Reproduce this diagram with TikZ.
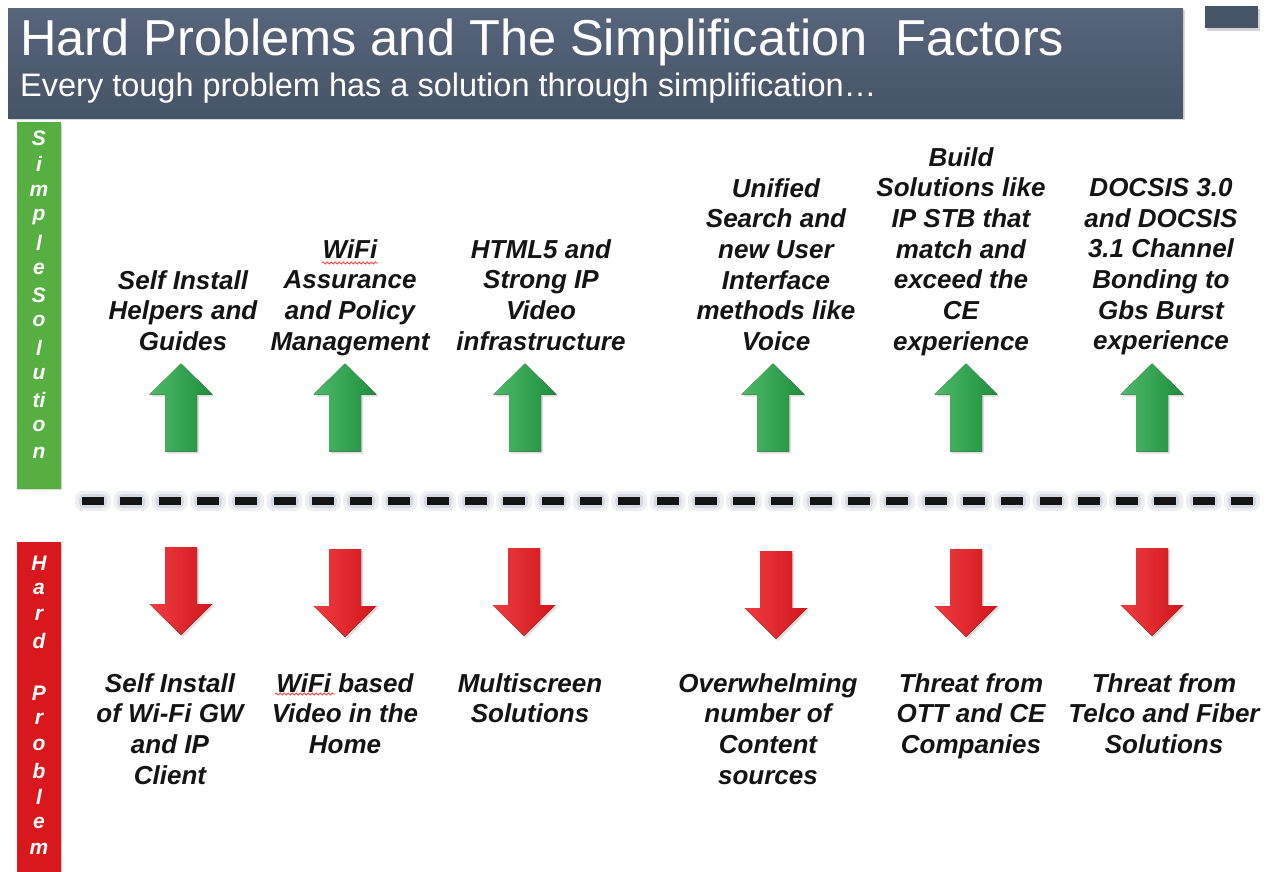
\documentclass[tikz,border=0pt]{standalone}
\usepackage{fontspec}
\setmainfont{Liberation Sans}
\usetikzlibrary{positioning,shadows,decorations.pathmorphing}
\definecolor{slatetop}{HTML}{56657A}
\definecolor{slatebot}{HTML}{465467}
\definecolor{solgreen}{HTML}{22A845}
\definecolor{bargreen}{HTML}{5DBE46}
\definecolor{probred}{HTML}{EC1A1F}
\definecolor{glowgray}{HTML}{9AA6BA}
\tikzset{
  claim/.style={align=center, anchor=north, inner sep=0pt, text=black!92,
    font=\fontsize{26}{30.7}\selectfont\bfseries\itshape},
  sidebar/.style={minimum width=44pt, inner sep=0pt,
    drop shadow={opacity=0.3, shadow xshift=1pt, shadow yshift=-2pt}},
  sideletter/.style={text=white, inner sep=0pt,
    font=\fontsize{21}{21}\selectfont\bfseries\itshape},
  squiggle/.style={draw=red!75, line width=0.8pt,
    decorate, decoration={snake, amplitude=1.1pt, segment length=4pt}},
  uparrow/.pic={
    \fill[left color=solgreen!80!white, middle color=solgreen!85!white, right color=solgreen!85!black,
      drop shadow={opacity=0.25, shadow xshift=2pt, shadow yshift=-2pt}]
      (0,-44) -- (31.5,-13) -- (16,-13) -- (16,44) -- (-16,44) -- (-16,-13) -- (-31.5,-13) -- cycle;
  },
  downarrow/.pic={
    \fill[left color=probred!85!white, middle color=probred, right color=probred!88!black,
      drop shadow={opacity=0.25, shadow xshift=2pt, shadow yshift=-2pt}]
      (0,44) -- (31.5,13) -- (16,13) -- (16,-44) -- (-16,-44) -- (-16,13) -- (-31.5,13) -- cycle;
  }
}

\begin{document}
\begin{tikzpicture}[x=1pt, y=-1pt]
  \useasboundingbox (0,0) rectangle (1270,871);

  % heading
  \node[minimum width=1175pt, minimum height=110pt, inner sep=0pt,
    top color=slatetop, bottom color=slatebot,
    drop shadow={opacity=0.3, shadow xshift=2pt, shadow yshift=-2pt}] (header) at (595.5,63) {};
  \node[anchor=base west, inner sep=0pt, text=white, font=\fontsize{50.5}{50.5}\selectfont] (title) at (20,55)
    {Hard Problems and The Simplification\ \ Factors};
  \node[anchor=base west, inner sep=0pt, text=white, font=\fontsize{32.5}{32.5}\selectfont] (subtitle) at (20,96)
    {Every tough problem has a solution through simplification…};
  \node[minimum width=53pt, minimum height=22pt, inner sep=0pt, fill=slatebot,
    drop shadow={opacity=0.35, shadow xshift=2pt, shadow yshift=-3pt}] (corner) at (1231.5,17) {};

  % side bars
  \node[sidebar, minimum height=366pt, left color=bargreen!92!black, middle color=bargreen!80!white,
    right color=bargreen!92!black] (simplebar) at (39,305) {};
  \node[sidebar, minimum height=338pt, left color=probred!92!black, middle color=probred!88!white,
    right color=probred!92!black] (hardbar) at (39,711) {};
  \foreach \ch [count=\i] in {S,i,m,p,l,e,S,o,l,u,ti,o,n}
    \node[sideletter] (simple-\i) at (39,{138+26.2*(\i-1)}) {\ch};
  \foreach \ch [count=\i] in {H,a,r,d}
    \node[sideletter] (hard-\i) at (39,{563+26*(\i-1)}) {\ch};
  \foreach \ch [count=\i] in {P,r,o,b,l,e,m}
    \node[sideletter] (prob-\i) at (39,{693+26*(\i-1)}) {\ch};

  % divider
  \foreach \k in {0,...,30}{
    \pgfmathsetmacro\dx{82+38.3*\k}
    \fill[glowgray, opacity=0.18, rounded corners=8pt] (\dx-7,491) rectangle (\dx+29,511);
    \fill[glowgray, opacity=0.3, rounded corners=5pt] (\dx-3,494) rectangle (\dx+25,508);
    \fill[black!92] (\dx,497) rectangle (\dx+22,505);
  }

  % solutions
  \node[claim] (sol1) at (183,270) {Self Install\\Helpers and\\Guides};
  \node[claim] (sol2) at (350,239) {WiFi\\Assurance\\and Policy\\Management};
  \node[claim] (sol3) at (541,239) {HTML5 and\\Strong IP\\Video\\infrastructure};
  \node[claim] (sol4) at (776,178) {Unified\\Search and\\new User\\Interface\\methods like\\Voice};
  \node[claim] (sol5) at (961,147) {Build\\Solutions like\\IP STB that\\match and\\exceed the\\CE\\experience};
  \node[claim] (sol6) at (1161,178) {DOCSIS 3.0\\and DOCSIS\\3.1 Channel\\Bonding to\\Gbs Burst\\experience};
  \draw[squiggle] (322,263) -- (378,263);

  \pic (up1) at (181,407.5) {uparrow};
  \pic (up2) at (345,407.5) {uparrow};
  \pic (up3) at (525,407.5) {uparrow};
  \pic (up4) at (773,407.5) {uparrow};
  \pic (up5) at (966,407.5) {uparrow};
  \pic (up6) at (1152,407.5) {uparrow};

  % problems
  \pic (down1) at (181,591) {downarrow};
  \pic (down2) at (345,593) {downarrow};
  \pic (down3) at (524,592) {downarrow};
  \pic (down4) at (776,595) {downarrow};
  \pic (down5) at (966,593) {downarrow};
  \pic (down6) at (1152,592) {downarrow};

  \node[claim] (prob1) at (170,673) {Self Install\\of Wi-Fi GW\\and IP\\Client};
  \node[claim] (prob2) at (345,673) {WiFi based\\Video in the\\Home};
  \node[claim] (prob3) at (530,673) {Multiscreen\\Solutions};
  \node[claim] (prob4) at (768,673) {Overwhelming\\number of\\Content\\sources};
  \node[claim] (prob5) at (971,673) {Threat from\\OTT and CE\\Companies};
  \node[claim] (prob6) at (1164,673) {Threat from\\Telco and Fiber\\Solutions};
  \draw[squiggle] (275,694) -- (335,694);
\end{tikzpicture}
\end{document}
